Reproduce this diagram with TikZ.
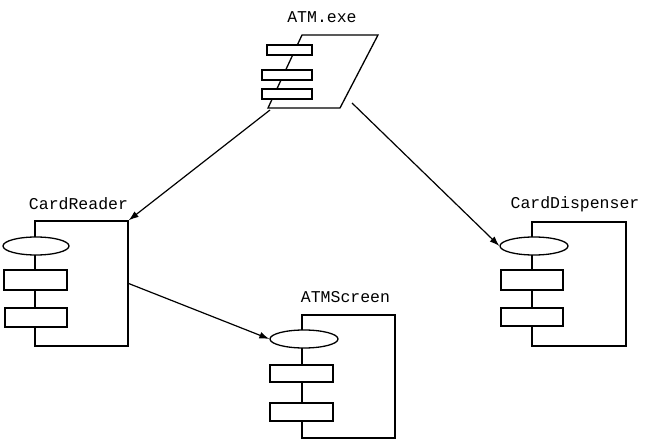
\documentclass[tikz,border=0pt]{standalone}
\usepackage{fontspec}
\newfontfamily\labfont{Liberation Mono}
\usepackage{tikz}
\usetikzlibrary{shapes.geometric,arrows.meta,positioning}

\begin{document}
\begin{tikzpicture}[x=1bp, y=-1bp,
		comp/.style={draw=black, line width=1.3bp, inner sep=0pt},
		port/.style={ellipse, draw=black, line width=1.3bp, fill=white,
			minimum width=66bp, minimum height=18bp, inner sep=0pt},
		bar/.style={rectangle, draw=black, line width=1.3bp, fill=white,
			minimum width=62bp, minimum height=19bp, inner sep=0pt},
		ebar/.style={rectangle, draw=black, line width=1.3bp, fill=white,
			minimum height=10bp, inner sep=0pt},
		arrow/.style={-{Latex[length=10bp,width=7bp]}, line width=1.2bp, black},
		clab/.style={font=\labfont\fontsize{16.5bp}{19bp}\selectfont, inner sep=0pt}
	]
		\useasboundingbox (0,0) rectangle (650,441);
		\node[clab] (exelab) at (322,17.5) {ATM.exe};
		\coordinate (exe-tl) at (302,35);
		\coordinate (exe-tr) at (378,35);
		\coordinate (exe-br) at (340,108);
		\coordinate (exe-bl) at (268,108);
		\draw[line width=1.3bp] (exe-tl) -- (exe-tr) -- (exe-br) -- (exe-bl) -- cycle;
		\node[ebar, minimum width=45bp] (exe1) at (289.5,50) {};
		\node[ebar, minimum width=50bp] (exe2) at (287,75) {};
		\node[ebar, minimum width=50bp] (exe3) at (287,94) {};
		\coordinate (exe-out1) at (270,110);
		\coordinate (exe-out2) at (352,103);

		\node[clab] (rdlab) at (78.5,204) {CardReader};
		\node[comp, minimum width=93bp, minimum height=125bp] (rd) at (81.5,283.5) {};
		\node[port] (rdp) at (36,246) {};
		\node[bar, minimum width=63bp, minimum height=20bp] (rd1) at (35.5,280) {};
		\node[bar] (rd2) at (36,317.5) {};

		\node[clab] (dslab) at (575,204) {CardDispenser};
		\node[comp, minimum width=94bp, minimum height=124bp] (ds) at (579,284) {};
		\node[port, minimum width=68bp] (dsp) at (534,246) {};
		\node[bar, minimum height=20bp] (ds1) at (532,280) {};
		\node[bar, minimum height=18bp] (ds2) at (532,317) {};

		\node[clab] (sclab) at (345.5,297) {ATMScreen};
		\node[comp, minimum width=93bp, minimum height=123bp] (sc) at (348.5,376.5) {};
		\node[port, minimum width=68bp] (scp) at (304,339) {};
		\node[bar, minimum width=63bp, minimum height=17bp] (sc1) at (301.5,373.5) {};
		\node[bar, minimum width=63bp, minimum height=18bp] (sc2) at (301.5,412) {};

		\draw[arrow] (exe-out1) -- (rd.north east);
		\draw[arrow] (exe-out2) -- (dsp.west);
		\draw[arrow] (rd.east) -- (scp.west);
	\end{tikzpicture}
\end{document}
